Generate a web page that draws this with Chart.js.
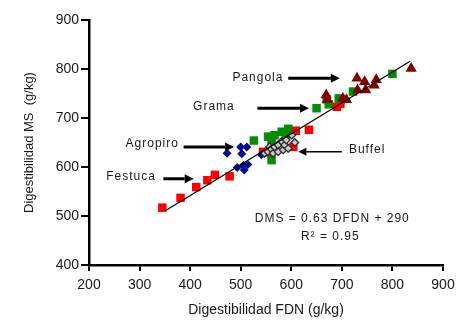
<!DOCTYPE html>
<html>
<head>
<meta charset="utf-8">
<script src="https://cdn.jsdelivr.net/npm/chart.js@4"></script>
<style>
html,body{margin:0;padding:0;background:#fff;}
#wrap{width:469px;height:327px;position:relative;}
</style>
</head>
<body>
<div id="wrap"><canvas id="c" width="469" height="327"></canvas></div>
<script>
// ---- data ----
const festucaX = [345, 381, 412, 434, 449, 478, 544, 554, 604, 609, 635, 690, 697];
const festucaY = [517, 537, 559, 573, 584, 581, 631, 630, 641, 674, 676, 723, 729];

const gramaX = [526, 554, 561, 567, 581, 589, 594, 561, 650, 670, 674, 694, 722, 800];
const gramaY = [654, 662, 655, 665, 672, 667, 678, 614, 720, 738, 728, 740, 754, 790];

const agropiroX = [473, 500, 502, 512, 493, 505, 507, 514, 541];
const agropiroY = [628, 641, 627, 641, 599, 603, 594, 605, 625];

const buffelX = [547, 554, 557, 561, 564, 567, 574, 574, 581, 584, 587, 590, 594, 601, 607];
const buffelY = [628, 631, 641, 636, 628, 641, 645, 631, 652, 635, 645, 655, 638, 665, 650];

const pangolaX = [669, 671, 702, 709, 730, 731, 745, 747, 764, 768, 837];
const pangolaY = [747, 738, 740, 737, 781, 757, 774, 757, 767, 778, 801];

const fitX = [350, 835];
const fitY = [510, 816];

const xTicks = [200, 300, 400, 500, 600, 700, 800, 900];
const yTicks = [400, 500, 600, 700, 800, 900];

// annotation labels (data units)
const labels = [
  {text: 'Pangola',  x: 534, y: 783, ax0: 594, ax1: 696, ay: 781, thick: true},
  {text: 'Grama',    x: 447, y: 724, ax0: 533, ax1: 635, ay: 720, thick: true},
  {text: 'Agropiro', x: 325, y: 648, ax0: 387, ax1: 487, ay: 641, thick: true},
  {text: 'Festuca',  x: 283, y: 580, ax0: 347, ax1: 407, ay: 576, thick: true},
  {text: 'Buffel',   x: 750, y: 636, ax0: 700, ax1: 614, ay: 631, thick: false}
];
const eq1 = 'DMS = 0.63 DFDN + 290';
const eq2 = 'R² = 0.95';

const pts = (xs, ys) => xs.map((x, i) => ({x: x, y: ys[i]}));

const FONT = '"Liberation Sans", Arial, sans-serif';

const annot = {
  id: 'annot',
  afterDatasetsDraw(chart) {
    const ctx = chart.ctx, xs = chart.scales.x, ys = chart.scales.y;
    ctx.save();
    ctx.fillStyle = '#1a1a1a';
    ctx.strokeStyle = '#000';
    ctx.font = '12px ' + FONT;
    ctx.textBaseline = 'middle';
    labels.forEach(l => {
      ctx.textAlign = 'center';
      ctx.fillStyle = '#1a1a1a';
      if (ctx.letterSpacing !== undefined) ctx.letterSpacing = '1px';
      ctx.fillText(l.text, xs.getPixelForValue(l.x), ys.getPixelForValue(l.y));
      const x0 = xs.getPixelForValue(l.ax0), x1 = xs.getPixelForValue(l.ax1), y = ys.getPixelForValue(l.ay);
      const dir = Math.sign(x1 - x0);
      const hl = l.thick ? 9 : 8, hw = l.thick ? 4.5 : 4;
      ctx.lineWidth = l.thick ? 3 : 1.5;
      ctx.fillStyle = '#000';
      ctx.beginPath();
      ctx.moveTo(x0, y);
      ctx.lineTo(x1 - dir * hl, y);
      ctx.stroke();
      ctx.beginPath();
      ctx.moveTo(x1, y);
      ctx.lineTo(x1 - dir * hl, y - hw);
      ctx.lineTo(x1 - dir * hl, y + hw);
      ctx.closePath();
      ctx.fill();
    });
    ctx.fillStyle = '#1a1a1a';
    ctx.textAlign = 'center';
    ctx.fillText(eq1, xs.getPixelForValue(681), ys.getPixelForValue(494));
    ctx.fillText(eq2, xs.getPixelForValue(677), ys.getPixelForValue(457));
    ctx.restore();
  }
};

new Chart(document.getElementById('c'), {
  type: 'scatter',
  data: {
    datasets: [
      {label: 'Fit', type: 'line', data: pts(fitX, fitY), borderColor: '#000', borderWidth: 1.2,
       pointRadius: 0, fill: false, order: 0},
      {label: 'Festuca', data: pts(festucaX, festucaY), pointStyle: 'rect', pointRadius: 6,
       backgroundColor: '#ff0000', borderWidth: 0, order: 5},
      {label: 'Grama', data: pts(gramaX, gramaY), pointStyle: 'rect', pointRadius: 6,
       backgroundColor: '#078a07', borderWidth: 0, order: 4},
      {label: 'Agropiro', data: pts(agropiroX, agropiroY), pointStyle: 'rectRot', pointRadius: 4.5,
       backgroundColor: '#0a0a8c', borderWidth: 0, order: 3},
      {label: 'Pangola', data: pts(pangolaX, pangolaY), pointStyle: 'triangle', pointRadius: 6.5,
       backgroundColor: '#840000', borderWidth: 0, order: 2},
      {label: 'Buffel', data: pts(buffelX, buffelY), pointStyle: 'rectRot', pointRadius: 3.8,
       backgroundColor: '#c8c8c8', borderColor: '#2a2a2a', borderWidth: 1.3, order: 1}
    ]
  },
  options: {
    responsive: false,
    animation: false,
    events: [],
    layout: {padding: {left: 0, right: 26, top: 20, bottom: 0}},
    plugins: {legend: {display: false}, tooltip: {enabled: false}},
    scales: {
      x: {
        type: 'linear', min: 200, max: 900,
        afterBuildTicks: s => { s.ticks = xTicks.map(v => ({value: v})); },
        afterFit: s => { s.height = 62; },
        border: {display: true, color: '#000', width: 2.5},
        grid: {display: true, drawOnChartArea: false, drawTicks: true, tickLength: 6, color: '#000', lineWidth: 2},
        ticks: {color: '#1a1a1a', font: {family: FONT, size: 14}, padding: 6, maxRotation: 0},
        title: {display: true, text: 'Digestibilidad FDN (g/kg)', color: '#1a1a1a',
                font: {family: FONT, size: 14}, padding: {top: 2, bottom: 8}}
      },
      y: {
        type: 'linear', min: 400, max: 900,
        afterBuildTicks: s => { s.ticks = yTicks.map(v => ({value: v})); },
        afterFit: s => { s.width = 89; },
        border: {display: true, color: '#000', width: 2.5},
        grid: {display: true, drawOnChartArea: false, drawTicks: true, tickLength: 8, color: '#000', lineWidth: 2},
        ticks: {color: '#1a1a1a', font: {family: FONT, size: 14}, padding: 2},
        title: {display: true, text: 'Digestibilidad MS  (g/kg)', color: '#1a1a1a',
                font: {family: FONT, size: 13}, padding: {top: 22, bottom: 2}}
      }
    }
  },
  plugins: [annot]
});
</script>
</body>
</html>
